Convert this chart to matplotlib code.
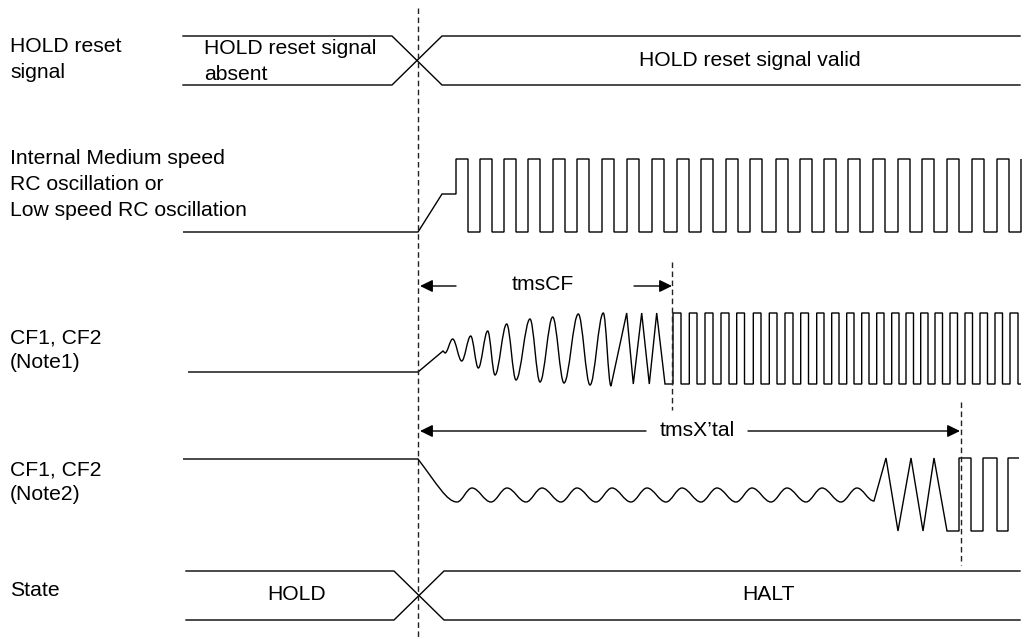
import matplotlib.pyplot as plt
from matplotlib.path import Path
from matplotlib.patches import PathPatch, FancyArrowPatch

plt.rcParams['font.family'] = ['Liberation Sans', 'DejaVu Sans']

W, H = 1024, 639
LW = 1.0
FS = 15.2

# signal names on the left: (text, y)
label_lines = ['HOLD reset', 'signal',
               'Internal Medium speed', 'RC oscillation or', 'Low speed RC oscillation',
               'CF1, CF2', '(Note1)',
               'CF1, CF2', '(Note2)',
               'State']
label_y = [47, 73, 158, 184, 210, 338, 363, 470, 495, 591]

# bus signals: left end, cross start, cross end, right end, top, bottom
hold_bus = [183, 392, 442, 1020, 36, 85]
state_bus = [186, 394, 444, 1020, 571, 620]

# Internal RC oscillation
rc_start_x = [183, 418, 442, 456]
rc_start_y = [232, 232, 194, 194]
rc_rise = [456, 480, 504, 528, 553, 577, 602, 627, 652, 677, 701, 726,
           750, 776, 800, 824, 848, 873, 898, 922, 947, 972, 997, 1021]
rc_fall = [468, 492, 516, 540, 565, 589, 614, 639, 664, 689, 713, 738,
           762, 788, 812, 836, 860, 885, 910, 934, 959, 984, 1009]
rc_hi, rc_lo = 159, 232

# CF1, CF2 (Note1)
n1_start_x = [188, 418, 443, 445]
n1_start_y = [372, 372, 351, 353]
n1_wave_x = [445, 452.7, 461.7, 470.7, 478.3, 487.7, 495, 506.7, 516, 530, 540,
             552.7, 564, 578.3, 590, 603.3, 611]
n1_wave_y = [353, 339, 361, 336, 368, 331, 375, 324, 380, 319, 382,
             317, 383, 314, 385, 313, 386]
n1_zig_x = [626.7, 633.3, 641.7, 649.3, 656.7, 665, 673]
n1_zig_y = [313, 384, 313, 384, 313, 384, 384]
n1_rise = [673, 689.3, 705, 721, 736.7, 753.3, 769.3, 785, 800.7, 816.7, 831.7,
           846.7, 861.7, 876.7, 891.7, 906, 920.7, 935, 950, 965, 980, 995, 1010]
n1_fall = [681, 697, 713, 729, 744.5, 761, 777, 793, 808.5, 824, 839,
           854, 869, 884, 899, 913.5, 928, 942.5, 957.5, 972.5, 987.5, 1002.5, 1018]
n1_hi, n1_lo, n1_end = 313, 384, 1021

# CF1, CF2 (Note2)
n2_start_x = [183, 418]
n2_start_y = [459, 459]
n2_wave_x = [457, 472, 491, 507, 526, 542, 561, 577, 596, 612, 631, 647, 666,
             682, 701, 717, 736, 752, 771, 787, 806, 822, 841, 857, 874]
n2_wave_y = [502, 488, 502, 488, 502, 488, 502, 488, 502, 488, 502, 488, 502,
             488, 502, 488, 502, 488, 502, 488, 502, 488, 502, 488, 501]
n2_zig_x = [886, 898, 911, 923, 934, 947, 959]
n2_zig_y = [458, 531, 458, 531, 458, 531, 531]
n2_rise = [959, 983, 1008]
n2_fall = [971, 997]
n2_hi, n2_lo, n2_end = 458, 531, 1019

# timing markers
markers_x = [418, 672, 961]
markers_y0 = [8, 262, 402]
markers_y1 = [639, 410, 565]


class Sig:
    def __init__(self, x, y):
        self.verts = [(x, y)]
        self.codes = [Path.MOVETO]

    def line(self, xs, ys):
        for x, y in zip(xs, ys):
            self.verts.append((x, y))
            self.codes.append(Path.LINETO)

    def curve(self, c1, c2, end):
        self.verts += [c1, c2, end]
        self.codes += [Path.CURVE4] * 3

    def wave(self, xs, ys, k=0.36):
        # smooth swing between extremes, flat tangent at each extreme
        x0, y0 = self.verts[-1]
        for x, y in zip(xs, ys):
            if x == x0:
                continue
            dx = x - x0
            self.curve((x0 + k * dx, y0), (x - k * dx, y), (x, y))
            x0, y0 = x, y

    def clock(self, rises, falls, hi, lo):
        for i, r in enumerate(rises):
            self.line([r, r], [lo, hi])
            if i < len(falls):
                self.line([falls[i], falls[i]], [hi, lo])

    def draw(self, ax):
        ax.add_patch(PathPatch(Path(self.verts, self.codes), fill=False,
                               lw=LW, color='black', capstyle='butt', joinstyle='miter'))


def bus(ax, b):
    x0, c0, c1, x1, top, bot = b
    ax.plot([x0, c0, c1, x1], [top, top, bot, bot], color='black', lw=LW)
    ax.plot([x0, c0, c1, x1], [bot, bot, top, top], color='black', lw=LW)


def arrow(ax, start, tip):
    ax.add_patch(FancyArrowPatch(start, tip, arrowstyle='-|>,head_length=0.45,head_width=0.22',
                                 mutation_scale=17, lw=LW, color='black',
                                 shrinkA=0, shrinkB=0))


fig = plt.figure(figsize=(W / 100, H / 100), dpi=100)
ax = fig.add_axes([0, 0, 1, 1])
ax.set_xlim(0, W)
ax.set_ylim(H, 0)
ax.axis('off')

for txt, y in zip(label_lines, label_y):
    ax.text(10, y, txt, fontsize=FS, ha='left', va='center')

# HOLD reset signal bus
bus(ax, hold_bus)
ax.text(204, 48, 'HOLD reset signal', fontsize=FS, ha='left', va='center')
ax.text(204, 74, 'absent', fontsize=FS, ha='left', va='center')
ax.text(750, 60, 'HOLD reset signal valid', fontsize=FS, ha='center', va='center')

# state bus
bus(ax, state_bus)
ax.text(297, 595, 'HOLD', fontsize=FS, ha='center', va='center')
ax.text(769, 595, 'HALT', fontsize=FS, ha='center', va='center')

# internal RC
s = Sig(rc_start_x[0], rc_start_y[0])
s.line(rc_start_x[1:], rc_start_y[1:])
s.clock(rc_rise, rc_fall, rc_hi, rc_lo)
s.verts[len(rc_start_x)] = (rc_rise[0], rc_start_y[-1])
s.draw(ax)

# CF note1
s = Sig(n1_start_x[0], n1_start_y[0])
s.line(n1_start_x[1:], n1_start_y[1:])
s.wave(n1_wave_x, n1_wave_y)
s.line(n1_zig_x, n1_zig_y)
s.clock(n1_rise, n1_fall, n1_hi, n1_lo)
s.line([n1_end], [n1_lo])
s.draw(ax)

# CF note2
s = Sig(n2_start_x[0], n2_start_y[0])
s.line(n2_start_x[1:], n2_start_y[1:])
s.curve((437, 484), (447, n2_wave_y[0]), (n2_wave_x[0], n2_wave_y[0]))
s.wave(n2_wave_x, n2_wave_y)
s.line(n2_zig_x, n2_zig_y)
s.clock(n2_rise, n2_fall, n2_hi, n2_lo)
s.line([n2_end], [n2_hi])
s.draw(ax)

# dashed markers
for x, y0, y1 in zip(markers_x, markers_y0, markers_y1):
    ax.plot([x, x], [y0, y1], color='#222222', lw=1.0, linestyle=(0, (4, 2.5)))

# tmsCF
arrow(ax, (456, 286), (420, 286))
arrow(ax, (634, 286), (672, 286))
ax.text(543, 284, 'tmsCF', fontsize=FS, ha='center', va='center')

# tmsX'tal
arrow(ax, (646, 431), (420, 431))
arrow(ax, (748, 431), (960, 431))
ax.text(697, 430, 'tmsX\u2019tal', fontsize=FS, ha='center', va='center')

fig.savefig('out.png', dpi=100)
